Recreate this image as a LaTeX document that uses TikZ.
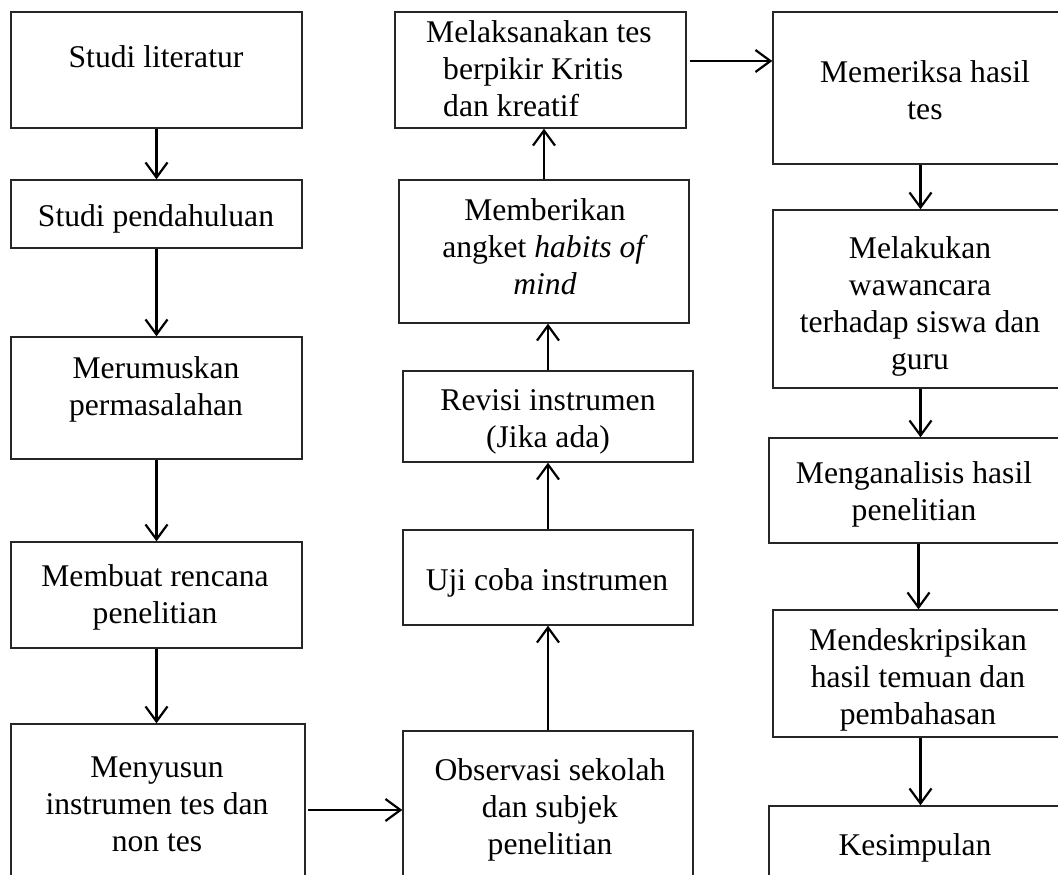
\documentclass[tikz,border=0pt]{standalone}
\usepackage{fontspec}
\setmainfont{Liberation Serif}
\usetikzlibrary{arrows.meta,fit}
\newcommand\fsz{\fontsize{31.6}{37}\selectfont}
\begin{document}
\begin{tikzpicture}[x=1pt,y=-1pt,
  box/.style={draw=black!85, line width=1.4pt, inner sep=0pt},
  txt/.style={inner sep=0pt, anchor=north, align=center, font=\fsz},
  arr/.style={line width=2.2pt, -{Straight Barb[length=15pt,width=22pt]}}]
\useasboundingbox (0,0) rectangle (1058,875);
\clip (0,0) rectangle (1058,875);
% column 1
\node[box, fit={(11,12) (302,128)}] (a1) {};
\node[box, fit={(11,180) (302,248)}] (a2) {};
\node[box, fit={(11,337) (302,459)}] (a3) {};
\node[box, fit={(11,542) (302,648)}] (a4) {};
\node[box, fit={(11,724) (305,896)}] (a5) {};
% column 2
\node[box, fit={(395,12) (686,128)}] (b6) {};
\node[box, fit={(399,180) (689,323)}] (b7) {};
\node[box, fit={(403,371) (693,462)}] (b8) {};
\node[box, fit={(403,530) (693,625)}] (b9) {};
\node[box, fit={(403,731) (693,889)}] (b10) {};
% column 3
\node[box, fit={(773,12) (1068,164)}] (c11) {};
\node[box, fit={(773,210) (1068,388)}] (c12) {};
\node[box, fit={(769,438) (1068,543)}] (c13) {};
\node[box, fit={(773,610) (1068,737)}] (c14) {};
\node[box, fit={(769,806) (1068,900)}] (c15) {};
% texts
\node[txt] (ta1) at (156,41) {\strut Studi literatur};
\node[txt] (ta2) at (156,200) {\strut Studi pendahuluan};
\node[txt] (ta3) at (156,352) {\strut Merumuskan\\permasalahan};
\node[txt] (ta4) at (155,560) {\strut Membuat rencana\\penelitian};
\node[txt] (ta5) at (157,751) {\strut Menyusun\\instrumen tes dan\\non tes};
\node[txt, anchor=north west, align=left] (tb6) at (426,16) {\strut Melaksanakan tes\\\hspace*{17pt}berpikir Kritis\\\hspace*{17pt}dan kreatif};
\node[txt] (tb7) at (545,194) {\strut Memberikan\\angket \textit{habits of}\\\textit{mind}};
\node[txt] (tb8) at (548,384) {\strut Revisi instrumen\\(Jika ada)};
\node[txt] (tb9) at (547,564) {\strut Uji coba instrumen};
\node[txt] (tb10) at (550,754) {\strut Observasi sekolah\\dan subjek\\penelitian};
\node[txt] (tc11) at (925,56) {\strut Memeriksa hasil\\tes};
\node[txt] (tc12) at (920,232) {\strut Melakukan\\wawancara\\terhadap siswa dan\\guru};
\node[txt] (tc13) at (914,457) {\strut Menganalisis hasil\\penelitian};
\node[txt] (tc14) at (918,624) {\strut Mendeskripsikan\\hasil temuan dan\\pembahasan};
\node[txt] (tc15) at (915,829) {\strut Kesimpulan};
% arrows
\draw[arr] (a1.south) -- (a2.north);
\draw[arr] (a2.south) -- (a3.north);
\draw[arr] (a3.south) -- (a4.north);
\draw[arr] (a4.south) -- (a4.south |- a5.north);
\draw[arr, shorten <=2pt] (a5.east) -- (b10.west);
\draw[arr] (b10.north) -- (b9.south);
\draw[arr] (b9.north) -- (b8.south);
\draw[arr] (b8.north) -- (b8.north |- b7.south);
\draw[arr] (b7.north) -- (b7.north |- b6.south);
\draw[arr, shorten <=3pt] ([yshift=9pt]b6.east) -- ([yshift=9pt]b6.east -| c11.west);
\draw[arr] (c11.south) -- (c12.north);
\draw[arr] (c12.south) -- (c12.south |- c13.north);
\draw[arr] (c13.south) -- (c13.south |- c14.north);
\draw[arr] (c14.south) -- (c14.south |- c15.north);
\end{tikzpicture}
\end{document}
